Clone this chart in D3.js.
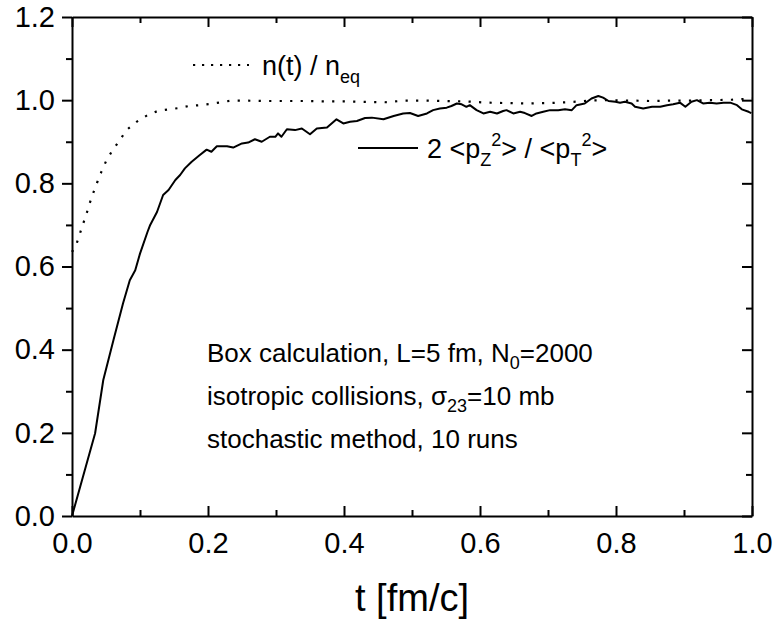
<!DOCTYPE html>
<html><head><meta charset="utf-8">
<script src="https://cdn.jsdelivr.net/npm/d3@7"></script>
<style>body{margin:0;background:#fff}svg{display:block}</style>
</head><body>
<svg id="c" width="777" height="628"></svg>
<script>
// ---- data ----
const nTimes = [0,0.006,0.011,0.016,0.021,0.026,0.031,0.037,0.043,0.050,0.059,0.070,0.080,0.095,0.111,0.126,0.142,0.157,0.172,0.188,0.203,0.219,0.235,0.25,0.28,0.31,0.34,0.37,0.40,0.43,0.46,0.49,0.52,0.55,0.58,0.61,0.64,0.67,0.70,0.73,0.76,0.79,0.82,0.85,0.88,0.91,0.94,0.97,1.0];
const nRatio = [0.635,0.651,0.676,0.701,0.725,0.752,0.776,0.802,0.827,0.853,0.878,0.903,0.928,0.948,0.964,0.974,0.978,0.981,0.986,0.988,0.991,0.995,0.999,0.999,0.998,0.998,0.998,0.997,0.997,0.996,0.995,0.999,0.999,0.998,0.997,0.994,0.993,0.992,0.993,0.995,0.999,1.0,0.999,0.998,0.999,0.999,1.0,1.001,1.004];
const pTimes = [0,0.019,0.034,0.046,0.061,0.075,0.085,0.093,0.100,0.111,0.115,0.125,0.134,0.142,0.152,0.159,0.166,0.176,0.188,0.198,0.205,0.213,0.228,0.237,0.250,0.259,0.269,0.279,0.291,0.299,0.303,0.308,0.316,0.328,0.338,0.350,0.360,0.375,0.389,0.399,0.409,0.419,0.431,0.441,0.458,0.473,0.487,0.497,0.509,0.522,0.531,0.541,0.551,0.558,0.566,0.573,0.580,0.585,0.595,0.605,0.615,0.625,0.634,0.639,0.649,0.659,0.666,0.676,0.683,0.693,0.703,0.715,0.725,0.735,0.742,0.754,0.764,0.774,0.781,0.789,0.799,0.806,0.813,0.823,0.828,0.840,0.853,0.865,0.875,0.884,0.894,0.902,0.911,0.919,0.928,0.938,0.948,0.958,0.968,0.978,0.985,0.995,0.999];
const pRatio = [0,0.111,0.199,0.327,0.423,0.511,0.567,0.591,0.631,0.683,0.700,0.731,0.772,0.784,0.808,0.820,0.836,0.852,0.868,0.881,0.876,0.889,0.889,0.886,0.896,0.898,0.906,0.900,0.912,0.912,0.920,0.912,0.930,0.928,0.932,0.918,0.932,0.934,0.954,0.944,0.948,0.950,0.957,0.958,0.954,0.962,0.968,0.969,0.962,0.968,0.976,0.980,0.982,0.986,0.992,0.990,0.984,0.988,0.976,0.968,0.972,0.968,0.974,0.976,0.968,0.972,0.969,0.962,0.968,0.972,0.976,0.976,0.978,0.976,0.988,0.992,1.004,1.010,1.006,0.998,0.996,0.994,0.996,0.992,0.984,0.980,0.984,0.984,0.988,0.990,0.994,0.984,0.996,1.000,0.992,0.994,0.992,0.994,0.994,0.988,0.978,0.972,0.969];
const xMajor = [0,0.2,0.4,0.6,0.8,1.0];
const xMinor = [0.1,0.3,0.5,0.7,0.9];
const yMajor = [0,0.2,0.4,0.6,0.8,1.0,1.2];
const yMinor = [0.1,0.3,0.5,0.7,0.9,1.1];
const xTickLabels = ["0.0","0.2","0.4","0.6","0.8","1.0"];
const yTickLabels = ["0.0","0.2","0.4","0.6","0.8","1.0","1.2"];
const xTitle = "t [fm/c]";
const infoLines = [
  [["Box calculation, L=5 fm, N",0],["0",1],["=2000",0]],
  [["isotropic collisions, ",0],["σ",0],["23",1],["=10 mb",0]],
  [["stochastic method, 10 runs",0]]
];

// ---- chart ----
const FONT = "'Liberation Sans', Arial, Helvetica, sans-serif";
const L=72, R=752, T=17, B=516;
const x = d3.scaleLinear().domain([0,1]).range([L,R]);
const y = d3.scaleLinear().domain([0,1.2]).range([B,T]);
const svg = d3.select("#c");
svg.append("rect").attr("width",777).attr("height",628).attr("fill","#fff");

function styleAxis(g){
  g.selectAll("path.domain").attr("stroke","#000").attr("stroke-width",2);
  g.selectAll(".tick line").attr("stroke","#000").attr("stroke-width",2);
  g.selectAll("text").attr("font-family",FONT).attr("font-size",29).attr("fill","#000");
}
// left: outward ticks with labels
const gl = svg.append("g").attr("transform",`translate(${L},0)`);
gl.call(d3.axisLeft(y).tickValues(yMajor).tickSize(10).tickSizeOuter(0).tickPadding(7)
  .tickFormat((d,i)=>yTickLabels[i]));
gl.append("g").call(d3.axisLeft(y).tickValues(yMinor).tickSize(6).tickSizeOuter(0).tickFormat(""))
  .select(".domain").remove();
styleAxis(gl);
// bottom: inward ticks with labels
const gb = svg.append("g").attr("transform",`translate(0,${B})`);
gb.call(d3.axisBottom(x).tickValues(xMajor).tickSize(-10).tickSizeOuter(0).tickPadding(16)
  .tickFormat((d,i)=>xTickLabels[i]));
gb.append("g").call(d3.axisBottom(x).tickValues(xMinor).tickSize(-6).tickSizeOuter(0).tickFormat(""))
  .select(".domain").remove();
styleAxis(gb);
gb.selectAll("text").attr("y",16).attr("dy","0.71em");
// top: inward ticks no labels
const gt = svg.append("g").attr("transform",`translate(0,${T})`);
gt.call(d3.axisTop(x).tickValues(xMajor).tickSize(-10).tickSizeOuter(0).tickFormat(""));
gt.append("g").call(d3.axisTop(x).tickValues(xMinor).tickSize(-6).tickSizeOuter(0).tickFormat(""))
  .select(".domain").remove();
styleAxis(gt);
// right: inward ticks no labels
const gr = svg.append("g").attr("transform",`translate(${R},0)`);
gr.call(d3.axisRight(y).tickValues(yMajor).tickSize(-10).tickSizeOuter(0).tickFormat(""));
gr.append("g").call(d3.axisRight(y).tickValues(yMinor).tickSize(-6).tickSizeOuter(0).tickFormat(""))
  .select(".domain").remove();
styleAxis(gr);

// curves
const line = d3.line().x(d=>x(d[0])).y(d=>y(d[1]));
svg.append("path").datum(nTimes.map((t,i)=>[t,nRatio[i]]))
  .attr("d",line).attr("fill","none").attr("stroke","#000")
  .attr("stroke-width",2.2).attr("stroke-dasharray","2.2 8.3");
svg.append("path").datum(pTimes.map((t,i)=>[t,pRatio[i]]))
  .attr("d",line).attr("fill","none").attr("stroke","#000")
  .attr("stroke-width",2).attr("stroke-linejoin","round");

// x title
svg.append("text").attr("x",412).attr("y",611).attr("text-anchor","middle")
  .attr("font-family",FONT).attr("font-size",38).attr("fill","#000").text(xTitle);

// legend
svg.append("line").attr("x1",193).attr("x2",249).attr("y1",65).attr("y2",65)
  .attr("stroke","#000").attr("stroke-width",2.2).attr("stroke-dasharray","2.2 6.8");
const t1 = svg.append("text").attr("x",262).attr("y",75).attr("font-family",FONT).attr("font-size",27).attr("fill","#000");
t1.append("tspan").text("n(t) / n");
t1.append("tspan").attr("dy",8).attr("font-size",18).text("eq");

svg.append("line").attr("x1",358).attr("x2",418).attr("y1",148).attr("y2",148)
  .attr("stroke","#000").attr("stroke-width",2);
const t2 = svg.append("text").attr("x",427).attr("y",158).attr("font-family",FONT).attr("font-size",27).attr("fill","#000");
t2.append("tspan").text("2 <p");
t2.append("tspan").attr("dy",8).attr("font-size",18).text("Z");
t2.append("tspan").attr("dy",-20).attr("font-size",18).text("2");
t2.append("tspan").attr("dy",12).text("> / <p");
t2.append("tspan").attr("dy",8).attr("font-size",18).text("T");
t2.append("tspan").attr("dy",-20).attr("font-size",18).text("2");
t2.append("tspan").attr("dy",12).text(">");

// info text
const baselines = [362,405,448];
infoLines.forEach((parts,i)=>{
  const t = svg.append("text").attr("x",207).attr("y",baselines[i])
    .attr("font-family",FONT).attr("font-size",26).attr("fill","#000");
  let shifted=false;
  parts.forEach(([s,sub])=>{
    const sp = t.append("tspan").text(s);
    if(sub && !shifted){ sp.attr("dy",7).attr("font-size",18); shifted=true; }
    else if(!sub && shifted){ sp.attr("dy",-7); shifted=false; }
  });
});
</script>
</body></html>
